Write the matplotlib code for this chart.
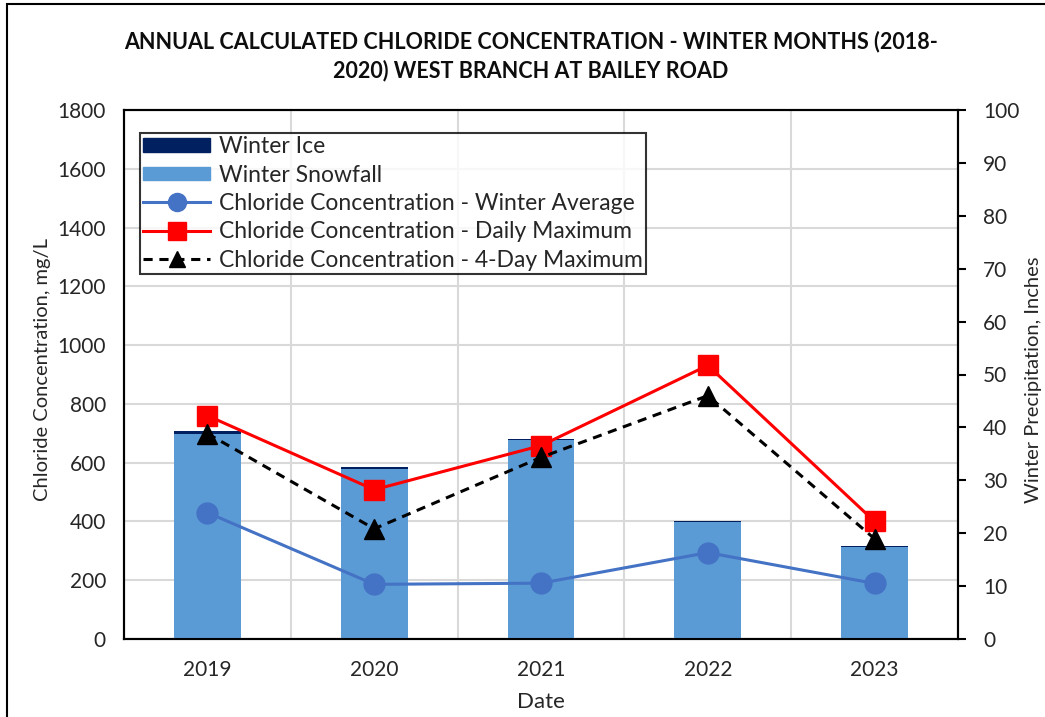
import numpy as np
import matplotlib
matplotlib.use('Agg')
import matplotlib.pyplot as plt
from matplotlib.patches import Patch, Rectangle
from matplotlib.lines import Line2D

plt.rcParams['font.family'] = ['Lato', 'DejaVu Sans']

''' Winter chloride concentration vs winter precipitation '''
years = ['2019', '2020', '2021', '2022', '2023']
snowfall = [38.8, 32.2, 37.6, 22.1, 17.4]
ice = [0.6, 0.4, 0.3, 0.2, 0.2]
winter_avg = [430, 186, 190, 294, 189]
daily_max = [760, 508, 658, 931, 400]
four_day_max = [699, 375, 618, 828, 341]

c_snow = '#5B9BD5'
c_ice = '#002060'
c_avg = '#4472C4'
c_red = '#FF0000'

fig = plt.figure(figsize=(10.45, 7.17), dpi=100)
# axes box: x 124-958, y 110-639 px
ax = fig.add_axes([124 / 1045, 1 - 639 / 717, 834 / 1045, 529 / 717])
x = np.arange(len(years))

# left axis: grid + labels
ax.set_xlim(-0.5, 4.5)
ax.set_ylim(0, 1800)
ax.set_yticks(np.arange(0, 1801, 200))
ax.set_xticks(x)
ax.set_xticklabels(years)
ax.set_xticks(np.arange(-0.5, 5, 1), minor=True)
ax.grid(axis='y', which='major', color='#D9D9D9', linewidth=1.5)
ax.grid(axis='x', which='minor', color='#D9D9D9', linewidth=1.5)
ax.tick_params(axis='both', which='both', length=0, labelsize=15, colors='#262626')
ax.tick_params(axis='y', pad=13)
ax.tick_params(axis='x', pad=15)
ax.set_axisbelow(True)
ax.set_ylabel('Chloride Concentration, mg/L', fontsize=14.5, color='#262626')
ax.yaxis.set_label_coords(-0.087, 0.51)
ax.set_xlabel('Date', fontsize=16, color='#262626', labelpad=9)

# right axis: precipitation bars
ax2 = ax.twinx()
ax2.bar(x, snowfall, width=0.4, color=c_snow, zorder=2)
ax2.bar(x, ice, width=0.4, bottom=snowfall, color=c_ice, zorder=2)
ax2.set_ylim(0, 100)
ax2.set_yticks(np.arange(0, 101, 10))
ax2.tick_params(axis='y', direction='out', length=6, width=1.5, labelsize=15,
                colors='black', labelcolor='#262626', pad=12)

# top axis: chloride lines
ax3 = ax.twinx()
ax3.set_ylim(0, 1800)
ax3.axis('off')
ax3.plot(x, winter_avg, color=c_avg, linewidth=2.2, marker='o', markersize=15,
         markerfacecolor=c_avg, markeredgecolor=c_avg)
ax3.plot(x, daily_max, color=c_red, linewidth=2.2, marker='s', markersize=15,
         markerfacecolor=c_red, markeredgecolor=c_red)
ax3.plot(x, four_day_max, color='black', linewidth=2.2, linestyle=(0, (3, 2.2)),
         marker='^', markersize=14, markerfacecolor='black', markeredgecolor='black')

for a in (ax, ax2):
    for s in a.spines.values():
        s.set_linewidth(1.5)
        s.set_color('black')

handles = [
    Patch(facecolor=c_ice, edgecolor=c_ice),
    Patch(facecolor=c_snow, edgecolor=c_snow),
    Line2D([], [], color=c_avg, linewidth=2.2, marker='o', markersize=13),
    Line2D([], [], color=c_red, linewidth=2.2, marker='s', markersize=13),
    Line2D([], [], color='black', linewidth=2.2, linestyle=(0, (3, 2.2)),
           marker='^', markersize=12),
]
labels = ['Winter Ice', 'Winter Snowfall', 'Chloride Concentration - Winter Average',
          'Chloride Concentration - Daily Maximum', 'Chloride Concentration - 4-Day Maximum']
leg = ax3.legend(handles, labels, loc='upper left', bbox_to_anchor=(0.019, 0.957),
                 fontsize=16.5, frameon=True, fancybox=False, handlelength=2.9,
                 handleheight=0.55, labelspacing=0.32, borderpad=0.15,
                 handletextpad=0.4, borderaxespad=0)
leg.get_frame().set_edgecolor('black')
leg.get_frame().set_linewidth(1.5)
for t in leg.get_texts():
    t.set_color('#262626')

fig.text(531 / 1045, 1 - 42 / 717, 'ANNUAL CALCULATED CHLORIDE CONCENTRATION - WINTER MONTHS (2018-',
         ha='center', va='center', fontsize=15.5, fontweight='bold', color='#0D0D0D')
fig.text(531 / 1045, 1 - 71 / 717, '2020) WEST BRANCH AT BAILEY ROAD',
         ha='center', va='center', fontsize=15.5, fontweight='bold', color='#0D0D0D')

# right axis label sits at the very edge of the chart
fig.text(1034 / 1045, 1 - 380 / 717, 'Winter Precipitation, Inches', rotation=90,
         ha='center', va='center', fontsize=14.5, color='#262626')

# chart border
fig.add_artist(Rectangle((7 / 1045, -0.05), 1.1, 1 - 4 / 717 + 0.05, transform=fig.transFigure,
                         fill=False, edgecolor='black', linewidth=1.5))

plt.savefig('out.png', dpi=100)
